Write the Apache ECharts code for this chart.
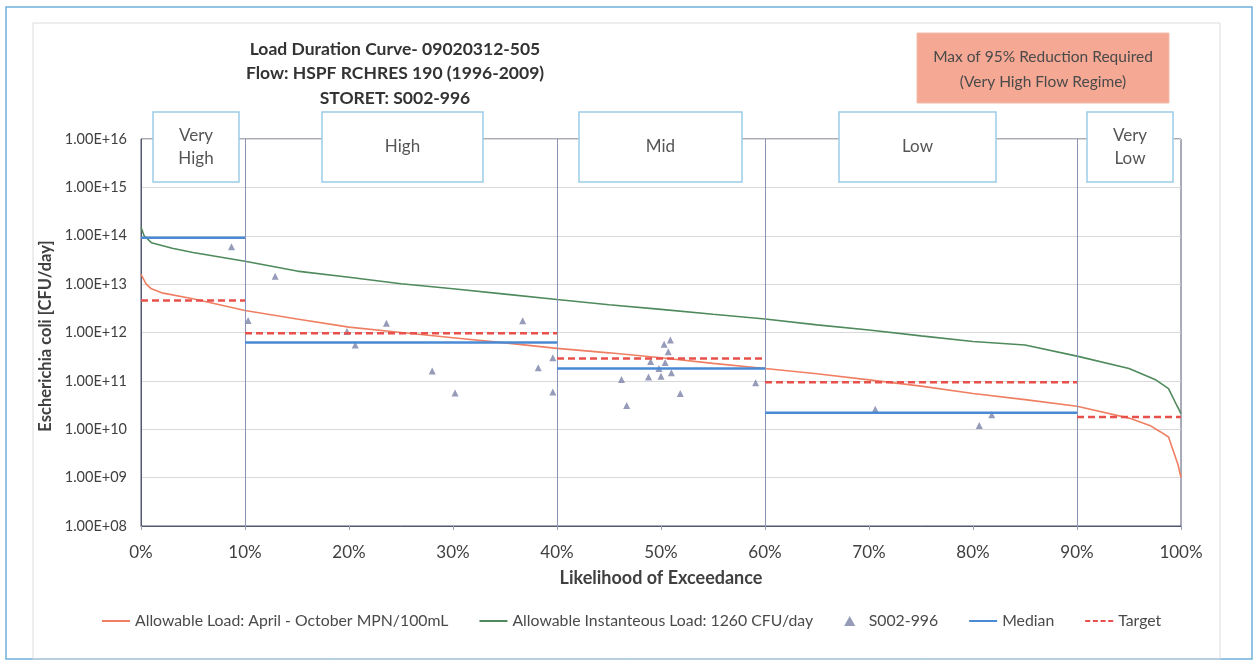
<!DOCTYPE html>
<html>
<head>
<meta charset="utf-8">
<script src="https://cdn.jsdelivr.net/npm/echarts@6/dist/echarts.min.js"></script>
<style>
html,body{margin:0;padding:0;background:#fff;}
#c{width:1255px;height:663px;}
</style>
</head>
<body>
<div id="c"></div>
<script>
// ---- data ----
const titleLines = ['Load Duration Curve- 09020312-505', 'Flow: HSPF RCHRES 190 (1996-2009)', 'STORET: S002-996'];
const xTickLabels = ['0%','10%','20%','30%','40%','50%','60%','70%','80%','90%','100%'];
const regimeNames = ['Very\nHigh', 'High', 'Mid', 'Low', 'Very\nLow'];
const regimeStart = [0, 10, 40, 60, 90];
const regimeEnd = [10, 40, 60, 90, 100];
const regimeBounds = [10, 40, 60, 90];

const loadX = [0, 0.5, 1, 2, 5, 10, 15, 20, 25, 30, 35, 40, 45, 50, 55, 60, 65, 70, 75, 80, 85, 90, 95, 97, 98, 98.8, 99.7, 100];
const loadY = [1.6e13, 1.0e13, 8.0e12, 6.6e12, 5.0e12, 2.85e12, 1.9e12, 1.29e12, 1.0e12, 7.8e11, 6.1e11, 4.7e11, 3.8e11, 3.0e11, 2.3e11, 1.8e11, 1.4e11, 1.05e11, 7.8e10, 5.5e10, 4.1e10, 3.0e10, 1.7e10, 1.2e10, 8.9e9, 6.9e9, 1.9e9, 1.0e9];

const instX = [0, 0.3, 1, 3, 5, 10, 15, 20, 25, 30, 35, 40, 45, 50, 55, 60, 65, 70, 75, 80, 85, 90, 95, 97.5, 98.8, 99.6, 100];
const instY = [1.5e14, 1.0e14, 7.2e13, 5.5e13, 4.5e13, 2.98e13, 1.86e13, 1.39e13, 1.02e13, 8.0e12, 6.2e12, 4.8e12, 3.75e12, 3.0e12, 2.38e12, 1.9e12, 1.44e12, 1.13e12, 8.5e11, 6.5e11, 5.5e11, 3.25e11, 1.8e11, 1.07e11, 6.9e10, 3.1e10, 2.1e10];

const sampleX = [8.7, 12.9, 10.3, 19.8, 20.6, 23.6, 28.0, 30.2, 36.7, 38.2, 39.6, 39.6, 46.2, 46.7, 48.8, 49.0, 49.8, 50.0, 50.3, 50.9, 50.7, 50.4, 51.0, 51.85, 59.1, 70.6, 80.6, 81.8];
const sampleY = [5.9e13, 1.45e13, 1.78e12, 1.05e12, 5.5e11, 1.55e12, 1.6e11, 5.6e10, 1.74e12, 1.86e11, 3.0e11, 5.9e10, 1.07e11, 3.1e10, 1.2e11, 2.5e11, 1.8e11, 1.25e11, 5.7e11, 7.0e11, 4.0e11, 2.4e11, 1.47e11, 5.5e10, 9.1e10, 2.6e10, 1.2e10, 2.0e10];

const medianY = [9.1e13, 6.2e11, 1.8e11, 2.2e10, null];
const targetY = [4.6e12, 9.7e11, 2.9e11, 9.4e10, 1.8e10];

const seriesNames = ['Allowable Load: April - October MPN/100mL', 'Allowable Instanteous Load: 1260 CFU/day', 'S002-996', 'Median', 'Target'];
const noteLines = ['Max of 95% Reduction Required', '(Very High Flow Regime)'];
const yName = 'Escherichia coli [CFU/day]';
const xName = 'Likelihood of Exceedance';

// ---- build ----
function steps(vals) {
  const out = [];
  vals.forEach((v, i) => {
    if (v == null) return;
    out.push([regimeStart[i], v]);
    out.push([regimeEnd[i], v]);
    out.push([regimeEnd[i], '-']);
  });
  return out;
}
function zip(a, b) { return a.map((v, i) => [v, b[i]]); }
function fmtExp(v) {
  const e = Math.round(Math.log10(v));
  const m = v / Math.pow(10, e);
  const es = (e < 0 ? '-' : '+') + String(Math.abs(e)).padStart(2, '0');
  return m.toFixed(2) + 'E' + es;
}

const FONT = 'Lato, "Open Sans", sans-serif';
const TXT = '#404040';
const COL = {load: '#ef7f62', inst: '#4f8a5c', samp: '#7b82a6', med: '#4a8ad4', tgt: '#e8504c'};
const chart = echarts.init(document.getElementById('c'), null, {renderer: 'canvas'});

const boxX = [153, 322, 579, 839, 1087];
const boxW = [86, 161, 163, 157, 86];
const graphics = [
  {type: 'rect', shape: {x: 6, y: 7, width: 1246, height: 652}, style: {fill: 'none', stroke: '#6fb0dd', lineWidth: 1.5}, silent: true, z: -10},
  {type: 'rect', shape: {x: 33, y: 23, width: 1187, height: 636}, style: {fill: 'none', stroke: '#dcdcdc', lineWidth: 1}, silent: true, z: -10},
  {type: 'text', x: 395, y: 37, style: {text: titleLines.join('\n'), font: 'bold 17.5px ' + FONT, fill: '#333', textAlign: 'center', lineHeight: 24.5}, z: 100},
  {type: 'rect', shape: {x: 917, y: 33, width: 252, height: 70}, style: {fill: '#f5a893', stroke: '#f2bcae', lineWidth: 1}, z: 100},
  {type: 'text', x: 1043, y: 44, style: {text: noteLines.join('\n'), font: '15.5px ' + FONT, fill: '#4a4a4a', textAlign: 'center', lineHeight: 25}, z: 101}
];
regimeNames.forEach((n, i) => {
  const h = 70;
  graphics.push({type: 'rect', shape: {x: boxX[i], y: 112, width: boxW[i], height: h}, style: {fill: '#fff', stroke: '#9ccbe6', lineWidth: 1.5}, z: 100});
  graphics.push({type: 'text', x: boxX[i] + boxW[i] / 2, y: 112 + h / 2, style: {text: n, font: '17px ' + FONT, fill: '#555', textAlign: 'center', textVerticalAlign: 'middle', lineHeight: 23}, z: 101});
});
graphics.push({type: 'text', x: 46, y: 336, rotation: Math.PI / 2, style: {text: yName, font: 'bold 16.5px ' + FONT, fill: TXT, textAlign: 'center', textVerticalAlign: 'middle'}, z: 100});

const lineIcon = 'path://M0,0H28V2H0Z';
const dashIcon = 'path://M0,0H5V2H0Z M7.7,0H12.7V2H7.7Z M15.4,0H20.4V2H15.4Z M23,0H28V2H23Z';

const option = {
  animation: false,
  backgroundColor: '#fff',
  textStyle: {fontFamily: FONT},
  grid: {left: 141, right: 74, top: 139, bottom: 137, show: true, borderColor: '#525870', borderWidth: 1, backgroundColor: 'transparent'},
  xAxis: {
    type: 'value', min: 0, max: 100, interval: 10,
    name: xName, nameLocation: 'middle', nameGap: 43,
    nameTextStyle: {fontSize: 18, fontWeight: 'bold', color: TXT, fontFamily: FONT},
    axisLine: {show: true, lineStyle: {color: '#525870'}},
    axisTick: {show: true, length: 4, lineStyle: {color: '#9aa0b8'}},
    axisLabel: {fontSize: 17, color: TXT, margin: 18, fontFamily: FONT, formatter: (v) => xTickLabels[Math.round(v / 10)]},
    splitLine: {show: false}
  },
  yAxis: {
    type: 'log', logBase: 10, min: 1e8, max: 1e16, interval: 1,
    axisLine: {show: true, lineStyle: {color: '#525870'}},
    axisTick: {show: false},
    axisLabel: {fontSize: 14.5, color: TXT, margin: 14, fontFamily: FONT, formatter: fmtExp},
    splitLine: {show: true, lineStyle: {color: '#d9d9d9', width: 1}}
  },
  legend: {
    left: 97, top: 608, itemGap: 31, itemWidth: 28, itemHeight: 10,
    textStyle: {fontSize: 15.8, color: '#4a4a4a', fontFamily: FONT},
    data: [
      {name: seriesNames[0], icon: lineIcon, itemStyle: {color: COL.load}},
      {name: seriesNames[1], icon: lineIcon, itemStyle: {color: COL.inst}},
      {name: seriesNames[2], icon: 'path://M5,0 L10,9 L0,9 Z', itemStyle: {color: COL.samp}},
      {name: seriesNames[3], icon: lineIcon, itemStyle: {color: COL.med}},
      {name: seriesNames[4], icon: dashIcon, itemStyle: {color: COL.tgt}}
    ]
  },
  graphic: graphics,
  series: [
    {name: seriesNames[0], type: 'line', data: zip(loadX, loadY), showSymbol: false, symbol: 'none', lineStyle: {color: COL.load, width: 1.6}, itemStyle: {color: COL.load}, z: 3},
    {name: seriesNames[1], type: 'line', data: zip(instX, instY), showSymbol: false, symbol: 'none', lineStyle: {color: COL.inst, width: 1.6}, itemStyle: {color: COL.inst}, z: 3,
      markLine: {silent: true, symbol: 'none', label: {show: false}, lineStyle: {color: '#8a93b8', width: 1, type: 'solid'},
        data: regimeBounds.map(b => ({xAxis: b}))}},
    {name: seriesNames[2], type: 'scatter', data: zip(sampleX, sampleY), symbol: 'triangle', symbolSize: 7, itemStyle: {color: COL.samp}, z: 4},
    {name: seriesNames[3], type: 'line', data: steps(medianY), symbol: 'none', connectNulls: false, lineStyle: {color: COL.med, width: 2.5}, itemStyle: {color: COL.med}, z: 5},
    {name: seriesNames[4], type: 'line', data: steps(targetY), symbol: 'none', connectNulls: false, lineStyle: {color: COL.tgt, width: 2.5, type: [7, 4]}, itemStyle: {color: COL.tgt}, z: 6}
  ]
};
chart.setOption(option);
</script>
</body>
</html>
